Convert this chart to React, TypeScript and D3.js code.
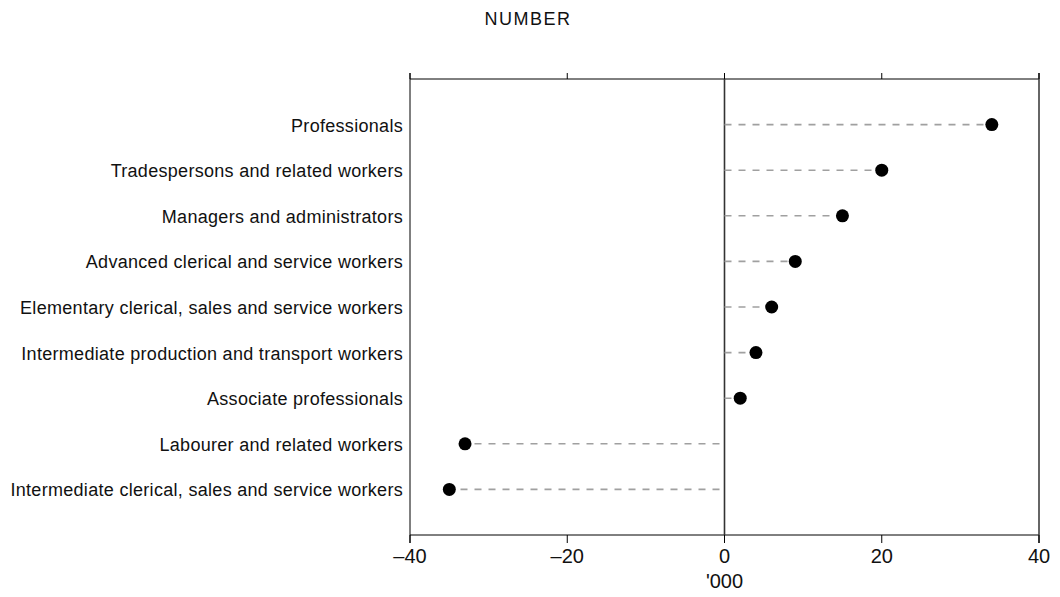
import React, { useEffect, useRef } from 'react';
import * as d3 from 'd3';

const categories = [
  'Professionals',
  'Tradespersons and related workers',
  'Managers and administrators',
  'Advanced clerical and service workers',
  'Elementary clerical, sales and service workers',
  'Intermediate production and transport workers',
  'Associate professionals',
  'Labourer and related workers',
  'Intermediate clerical, sales and service workers',
];
const values = [34, 20, 15, 9, 6, 4, 2, -33, -35];
const xTicks = [-40, -20, 0, 20, 40];

const W = 1060;
const H = 597;
const left = 410;
const right = 1039;
const top = 79;
const bottom = 535;
const font = '"Liberation Sans", Arial, sans-serif';

export default function App() {
  const svgRef = useRef<SVGSVGElement>(null);

  useEffect(() => {
    if (svgRef.current === null) {
      return;
    }
    const svg = d3.select(svgRef.current);
    svg.selectAll('*').remove();

    const x = d3.scaleLinear().domain([-40, 40]).range([left, right]);
    const y = d3.scalePoint<string>().domain(categories).range([top, bottom]).padding(1);
    const fmt = (d: number) => (d < 0 ? '\u2013' + Math.abs(d) : String(d));

    // frame
    const g = svg.append('g');
    g.append('line').attr('x1', left).attr('x2', right).attr('y1', top).attr('y2', top)
      .attr('stroke', '#000').attr('stroke-width', 1);
    g.append('line').attr('x1', left).attr('x2', right).attr('y1', bottom).attr('y2', bottom)
      .attr('stroke', '#000').attr('stroke-width', 1);
    g.append('line').attr('x1', left).attr('x2', left).attr('y1', top - 6).attr('y2', bottom + 8)
      .attr('stroke', '#000').attr('stroke-width', 1);
    g.append('line').attr('x1', right).attr('x2', right).attr('y1', top - 6).attr('y2', bottom + 8)
      .attr('stroke', '#333').attr('stroke-width', 1.5);
    g.append('line').attr('x1', x(0)).attr('x2', x(0)).attr('y1', top).attr('y2', bottom)
      .attr('stroke', '#333').attr('stroke-width', 1.6);

    // ticks top and bottom
    g.selectAll('.tt').data(xTicks).join('line')
      .attr('x1', (d) => x(d)).attr('x2', (d) => x(d))
      .attr('y1', top - 6).attr('y2', top).attr('stroke', '#000');
    g.selectAll('.bt').data(xTicks).join('line')
      .attr('x1', (d) => x(d)).attr('x2', (d) => x(d))
      .attr('y1', bottom).attr('y2', bottom + 8).attr('stroke', '#000');

    g.selectAll('.tl').data(xTicks).join('text')
      .attr('x', (d) => x(d)).attr('y', 563)
      .attr('text-anchor', 'middle')
      .style('font', `20px ${font}`)
      .attr('fill', '#111')
      .text((d) => fmt(d));

    svg.append('text').attr('x', x(0)).attr('y', 588).attr('text-anchor', 'middle')
      .style('font', `20px ${font}`).attr('fill', '#111').text("'000");

    svg.append('text').attr('x', 528).attr('y', 25).attr('text-anchor', 'middle')
      .style('font', `18px ${font}`).style('letter-spacing', '1.5px').attr('fill', '#111').text('NUMBER');

    // category labels
    svg.selectAll('.cl').data(categories).join('text')
      .attr('x', 403).attr('y', (d) => (y(d) as number) + 7)
      .attr('text-anchor', 'end')
      .style('font', `18px ${font}`)
      .style('letter-spacing', '0.3px')
      .attr('fill', '#111')
      .text((d) => d);

    const rows = categories.map((c, i) => ({ c, v: values[i] }));

    svg.selectAll('.dl').data(rows).join('line')
      .attr('x1', (d) => (d.v < 0 ? x(0) - 5 : x(0)))
      .attr('x2', (d) => x(d.v))
      .attr('y1', (d) => y(d.c) as number).attr('y2', (d) => y(d.c) as number)
      .attr('stroke', '#a0a0a0').attr('stroke-width', 1.6).attr('stroke-dasharray', '7,7');

    svg.selectAll('.dot').data(rows).join('circle')
      .attr('cx', (d) => x(d.v)).attr('cy', (d) => y(d.c) as number)
      .attr('r', 6.5).attr('fill', '#000');
  }, []);

  return (
    <svg ref={svgRef} width={W} height={H} style={{ position: 'absolute', left: 0, top: 0, background: '#fff' }} />
  );
}
